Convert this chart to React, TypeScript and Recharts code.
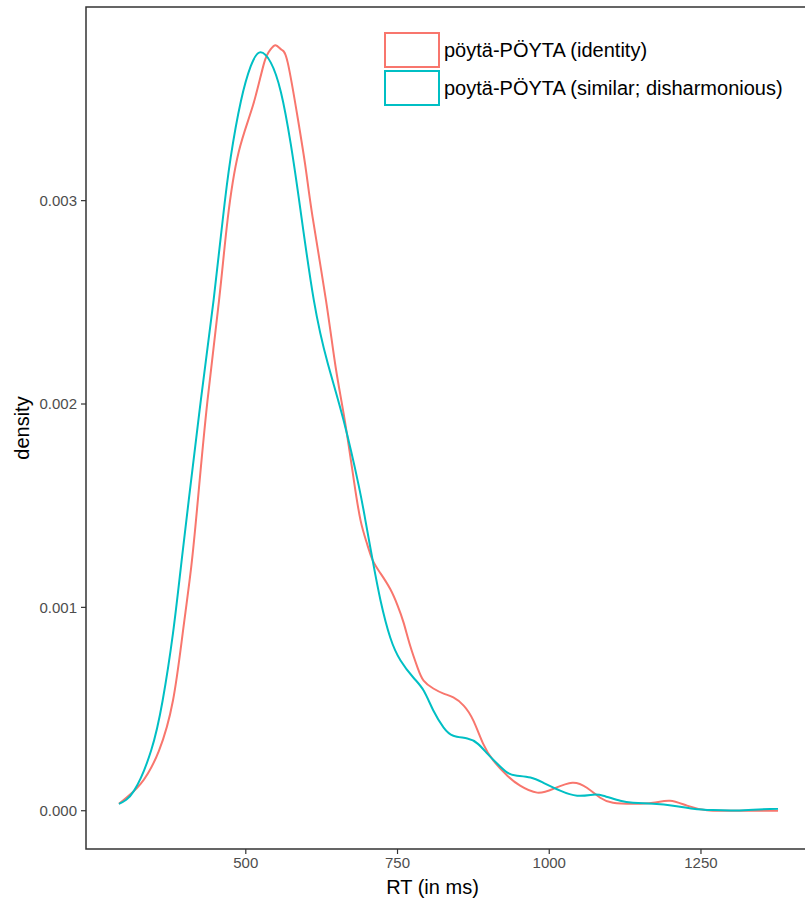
import React from "react";
import {
  LineChart, Line, XAxis, YAxis, ReferenceArea, Legend, Label,
} from "recharts";

const FONT = "'Liberation Sans', Arial, Helvetica, sans-serif";
const COLORS = ["#F8766D", "#00BFC4"];
const SERIES_NAMES = ["pöytä-PÖYTA (identity)", "poytä-PÖYTA (similar; disharmonious)"];

const xTicks = [500, 750, 1000, 1250];
const yTicks = [0, 0.001, 0.002, 0.003];

// identity condition
const identityRt = [
  291, 327, 357, 380, 396, 410, 421, 437, 456, 470, 488, 512, 530, 540, 549, 559,
  569, 586, 599, 610, 632, 648, 663, 678, 689, 699, 709, 722, 738, 750, 760, 771,
  783, 793, 809, 826, 842, 859, 875, 891, 908, 931, 952, 980, 1007, 1038, 1062,
  1084, 1105, 1138, 1171, 1199, 1227, 1260, 1303, 1377,
];
const identityDensity = [
  0.000034, 0.000133, 0.000296, 0.000542, 0.000872, 0.001197, 0.001527, 0.00202,
  0.002512, 0.002906, 0.003236, 0.00347, 0.003675, 0.00374, 0.003764, 0.003742,
  0.00368, 0.003399, 0.003153, 0.00292, 0.002512, 0.002182, 0.001921, 0.001626,
  0.001429, 0.00132, 0.001232, 0.001167, 0.00109, 0.00101, 0.000925, 0.00081,
  0.000704, 0.00064, 0.000601, 0.000576, 0.000557, 0.000517, 0.000443, 0.00033,
  0.000246, 0.000172, 0.000123, 0.000089, 0.000108, 0.000138, 0.000113, 0.000064,
  0.000039, 0.000034, 0.000039, 0.000049, 0.000025, 0.000002, 0, 0,
];

// similar (disharmonious) condition
const similarRt = [
  291, 316, 344, 363, 380, 393, 406, 426, 447, 462, 475, 492, 508, 523, 541, 558,
  574, 590, 612, 635, 661, 686, 697, 709, 722, 738, 755, 776, 793, 809, 826, 842,
  865, 882, 898, 914, 931, 947, 969, 990, 1018, 1046, 1072, 1089, 1117, 1138, 1171,
  1204, 1237, 1270, 1303, 1336, 1377,
];
const similarDensity = [
  0.000034, 0.000099, 0.000296, 0.000542, 0.000872, 0.001197, 0.001527, 0.00202,
  0.002512, 0.002906, 0.00321, 0.00349, 0.00366, 0.003729, 0.00368, 0.003532,
  0.00328, 0.002956, 0.002512, 0.0022, 0.001921, 0.0016, 0.001429, 0.001232,
  0.001034, 0.000852, 0.000739, 0.000655, 0.000591, 0.000493, 0.000409, 0.000369,
  0.000355, 0.00033, 0.000281, 0.000232, 0.000187, 0.000172, 0.000163, 0.000138,
  0.000099, 0.000074, 0.000079, 0.000074, 0.000049, 0.000039, 0.000034, 0.000025,
  0.00001, 0.000003, 0.000001, 0.000005, 0.00001,
];

const identityData = identityRt.map((rt, i) => ({ rt, density: identityDensity[i] }));
const similarData = similarRt.map((rt, i) => ({ rt, density: similarDensity[i] }));

// ggplot-style 5% expansion
const allRt = [...identityRt, ...similarRt];
const allDens = [...identityDensity, ...similarDensity];
const rtMin = Math.min(...allRt);
const rtMax = Math.max(...allRt);
const dMin = Math.min(...allDens);
const dMax = Math.max(...allDens);
const xDomain = [rtMin - (rtMax - rtMin) * 0.05, rtMax + (rtMax - rtMin) * 0.05];
const yDomain = [dMin - (dMax - dMin) * 0.05, dMax + (dMax - dMin) * 0.05];

const tickStyle = { fill: "#4D4D4D", fontSize: 15, fontFamily: FONT };

const renderLegend = (props: any) => {
  const { payload } = props;
  const items = SERIES_NAMES.map((n) => payload.find((p: any) => p.value === n)).filter(Boolean);
  return (
    <div style={{ fontFamily: FONT, fontSize: 20, color: "#000" }}>
      {items.map((entry: any) => (
        <div
          key={entry.value}
          style={{ display: "flex", alignItems: "center", marginBottom: 2 }}
        >
          <div
            style={{
              width: 56,
              height: 36,
              boxSizing: "border-box",
              border: `2px solid ${entry.color}`,
              background: "#fff",
            }}
          />
          <span style={{ marginLeft: 4, whiteSpace: "nowrap" }}>{entry.value}</span>
        </div>
      ))}
    </div>
  );
};

const XTitle = (props: any) => {
  const { viewBox } = props;
  return (
    <text
      x={viewBox.x + viewBox.width / 2 - 16}
      y={viewBox.y + 45}
      textAnchor="middle"
      fontSize={20}
      fontFamily={FONT}
      fill="#000"
    >
      RT (in ms)
    </text>
  );
};

const YTitle = (props: any) => {
  const { viewBox } = props;
  const x = viewBox.x + 23;
  const y = viewBox.y + viewBox.height / 2;
  return (
    <text
      x={x}
      y={y}
      transform={`rotate(-90, ${x}, ${y})`}
      textAnchor="middle"
      fontSize={20}
      fontFamily={FONT}
      fill="#000"
    >
      density
    </text>
  );
};

export default function App() {
  return (
    <div
      style={{
        position: "absolute",
        left: 0,
        top: 0,
        width: 805,
        height: 901,
        overflow: "hidden",
        background: "#fff",
      }}
    >
      <LineChart
        width={820}
        height={901}
        margin={{ top: 7, right: 9, bottom: 0, left: 6 }}
      >
        <XAxis
          dataKey="rt"
          type="number"
          domain={xDomain}
          ticks={xTicks}
          allowDataOverflow
          axisLine={false}
          tickLine={{ stroke: "#333333", strokeWidth: 1.2 }}
          tickSize={5}
          tickMargin={3}
          tick={tickStyle}
          height={52}
        >
          <Label content={XTitle} />
        </XAxis>
        <YAxis
          type="number"
          domain={yDomain}
          ticks={yTicks}
          allowDataOverflow
          axisLine={false}
          tickLine={{ stroke: "#333333", strokeWidth: 1.2 }}
          tickSize={5}
          tickMargin={4}
          tick={tickStyle}
          tickFormatter={(v: number) => v.toFixed(3)}
          width={80}
        >
          <Label content={YTitle} />
        </YAxis>
        <ReferenceArea
          x1={xDomain[0]}
          x2={xDomain[1]}
          y1={yDomain[0]}
          y2={yDomain[1]}
          fill="none"
          stroke="#333333"
          strokeWidth={1.5}
          ifOverflow="visible"
        />
        <Line
          data={identityData}
          dataKey="density"
          name={SERIES_NAMES[0]}
          type="natural"
          stroke={COLORS[0]}
          strokeWidth={2}
          dot={false}
          activeDot={false}
          isAnimationActive={false}
        />
        <Line
          data={similarData}
          dataKey="density"
          name={SERIES_NAMES[1]}
          type="natural"
          stroke={COLORS[1]}
          strokeWidth={2}
          dot={false}
          activeDot={false}
          isAnimationActive={false}
        />
        <Legend
          layout="vertical"
          align="center"
          verticalAlign="middle"
          content={renderLegend}
          wrapperStyle={{ top: 32, left: 384, width: "auto", height: "auto" }}
        />
      </LineChart>
    </div>
  );
}
